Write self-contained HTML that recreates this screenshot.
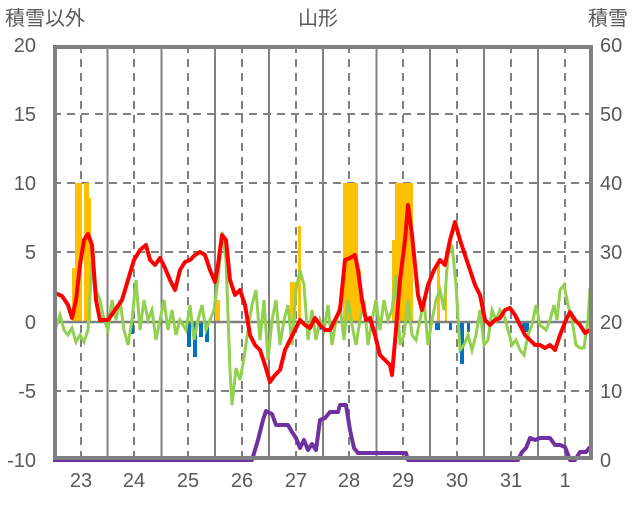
<!DOCTYPE html><html><head><meta charset="utf-8"><style>body{margin:0;background:#fff}text{font-family:"Liberation Sans","Noto Sans CJK JP",sans-serif;fill:#595959;font-size:20px}</style></head><body>
<svg width="636" height="501" xmlns="http://www.w3.org/2000/svg">
<text x="5" y="25" font-size="19">積雪以外</text>
<text x="298" y="25" font-size="19">山形</text>
<text x="588" y="25" font-size="19">積雪</text>
<g text-anchor="end"><text x="36" y="52">20</text><text x="36" y="121">15</text><text x="36" y="190">10</text><text x="36" y="259">5</text><text x="36" y="329">0</text><text x="36" y="398">-5</text><text x="36" y="467">-10</text></g>
<g><text x="600" y="52">60</text><text x="600" y="121">50</text><text x="600" y="190">40</text><text x="600" y="259">30</text><text x="600" y="329">20</text><text x="600" y="398">10</text><text x="600" y="467">0</text></g>
<g text-anchor="middle"><text x="81" y="487">23</text><text x="134" y="487">24</text><text x="188" y="487">25</text><text x="242" y="487">26</text><text x="296" y="487">27</text><text x="349" y="487">28</text><text x="403" y="487">29</text><text x="457" y="487">30</text><text x="511" y="487">31</text><text x="565" y="487">1</text></g>
<g stroke="#808080" stroke-width="2" stroke-dasharray="8,6"><line x1="53" x2="593" y1="114" y2="114"/><line x1="53" x2="593" y1="183" y2="183"/><line x1="53" x2="593" y1="252" y2="252"/><line x1="53" x2="593" y1="391" y2="391"/>
<line x1="81" x2="81" y1="45" y2="460"/><line x1="134" x2="134" y1="45" y2="460"/><line x1="188" x2="188" y1="45" y2="460"/><line x1="242" x2="242" y1="45" y2="460"/><line x1="296" x2="296" y1="45" y2="460"/><line x1="349" x2="349" y1="45" y2="460"/><line x1="403" x2="403" y1="45" y2="460"/><line x1="457" x2="457" y1="45" y2="460"/><line x1="511" x2="511" y1="45" y2="460"/><line x1="565" x2="565" y1="45" y2="460"/></g>
<g stroke="#808080" stroke-width="2"><line x1="107.5" x2="107.5" y1="45" y2="460"/><line x1="161.5" x2="161.5" y1="45" y2="460"/><line x1="215" x2="215" y1="45" y2="460"/><line x1="269" x2="269" y1="45" y2="460"/><line x1="323" x2="323" y1="45" y2="460"/><line x1="376.5" x2="376.5" y1="45" y2="460"/><line x1="430" x2="430" y1="45" y2="460"/><line x1="484" x2="484" y1="45" y2="460"/><line x1="538" x2="538" y1="45" y2="460"/></g>
<g fill="#FFC000"><rect x="75" y="183" width="7" height="139"/><rect x="84" y="183" width="5" height="139"/><rect x="89" y="198" width="2" height="124"/><rect x="72" y="268" width="3" height="54"/><rect x="290" y="282" width="6" height="40"/><rect x="298" y="226" width="3" height="96"/><rect x="343" y="183" width="15" height="139"/><rect x="358" y="270" width="3" height="52"/><rect x="395" y="183" width="18" height="139"/><rect x="392" y="240" width="3" height="82"/><rect x="437" y="265" width="3" height="57"/><rect x="445" y="270" width="2" height="52"/><rect x="215" y="300" width="5" height="22"/></g>
<g fill="#0070C0"><rect x="131" y="322" width="3" height="12"/><rect x="187" y="322" width="4" height="25"/><rect x="193" y="322" width="4" height="35"/><rect x="199" y="322" width="4" height="15"/><rect x="205" y="322" width="4" height="20"/><rect x="318" y="322" width="3" height="8"/><rect x="435" y="322" width="5" height="8"/><rect x="449" y="322" width="3" height="8"/><rect x="460" y="322" width="4" height="42"/><rect x="467" y="322" width="3" height="10"/><rect x="522" y="322" width="7" height="10"/></g>
<line x1="53" x2="593" y1="322" y2="322" stroke="#808080" stroke-width="2.5"/>
<polyline fill="none" stroke="#92D050" stroke-width="3" points="55,330 60,315 64,330 68,335 72,328 76,342 80,335 84,342 88,330 92,262 96,290 100,300 104,320 108,330 112,300 116,320 120,300 124,330 128,345 132,320 136,280 140,330 144,300 148,320 152,310 156,340 160,320 164,300 168,330 172,310 176,335 180,320 186,330 190,305 194,340 198,320 202,305 206,330 210,320 214,310 218,280 222,232 226,260 230,370 232,405 236,368 240,380 244,358 248,330 252,305 256,290 260,340 264,300 268,360 272,320 276,300 280,345 284,320 288,305 292,345 296,290 300,270 304,285 308,340 312,310 316,340 320,320 324,330 328,305 332,345 336,320 340,305 344,340 348,300 352,325 356,345 360,320 364,300 368,345 372,320 376,300 380,330 384,300 388,320 392,310 396,275 400,345 404,335 408,300 412,335 416,340 420,320 424,300 428,345 432,320 436,300 440,290 444,310 448,255 452,245 456,285 460,350 464,345 468,335 472,350 476,335 480,310 484,345 488,340 492,310 496,320 500,310 504,315 508,330 512,345 516,340 520,350 524,355 528,335 532,325 536,305 540,325 546,330 550,320 554,305 557,320 560,290 564,285 568,305 572,320 576,345 580,348 584,348 588,320 590,288"/>
<polyline fill="none" stroke="#FF0000" stroke-width="4" stroke-linejoin="round" points="55,293 62,296 68,305 72,318 76,300 80,265 84,240 88,234 92,245 96,300 100,320 108,320 115,310 122,300 128,280 134,260 140,250 146,245 150,260 155,265 160,258 165,268 170,280 175,290 180,270 185,262 190,260 195,255 200,252 205,255 210,270 215,282 218,265 222,235 226,240 230,280 235,295 240,290 245,305 250,335 255,345 260,350 265,365 270,382 275,375 280,370 285,350 290,340 295,330 300,320 305,325 310,328 315,318 320,325 325,330 330,330 335,320 340,310 345,260 350,258 355,255 358,270 362,300 366,320 370,318 375,335 380,355 385,360 390,365 392,375 396,330 400,280 405,240 408,205 412,235 418,295 422,310 428,285 434,270 440,260 445,265 450,240 455,222 460,240 465,255 470,270 475,285 480,295 485,320 490,325 495,320 500,318 505,310 510,308 515,315 520,325 525,335 530,340 535,345 540,345 545,348 550,345 555,350 560,335 566,320 570,312 575,320 580,325 585,333 590,330"/>
<polyline fill="none" stroke="#7030A0" stroke-width="4" stroke-linejoin="round" points="53,460 252,460 258,440 263,420 266,411 272,414 276,425 288,425 292,432 296,438 300,448 304,440 308,450 312,444 316,450 320,420 325,418 330,412 338,412 340,405 346,405 350,430 354,448 358,453 406,453 408,460 518,460 522,452 526,448 530,438 535,440 540,438 550,438 555,445 560,445 565,447 570,460 575,460 580,452 586,452 590,447"/>
<rect x="55" y="47" width="536" height="411" fill="none" stroke="#808080" stroke-width="4"/>
</svg></body></html>
